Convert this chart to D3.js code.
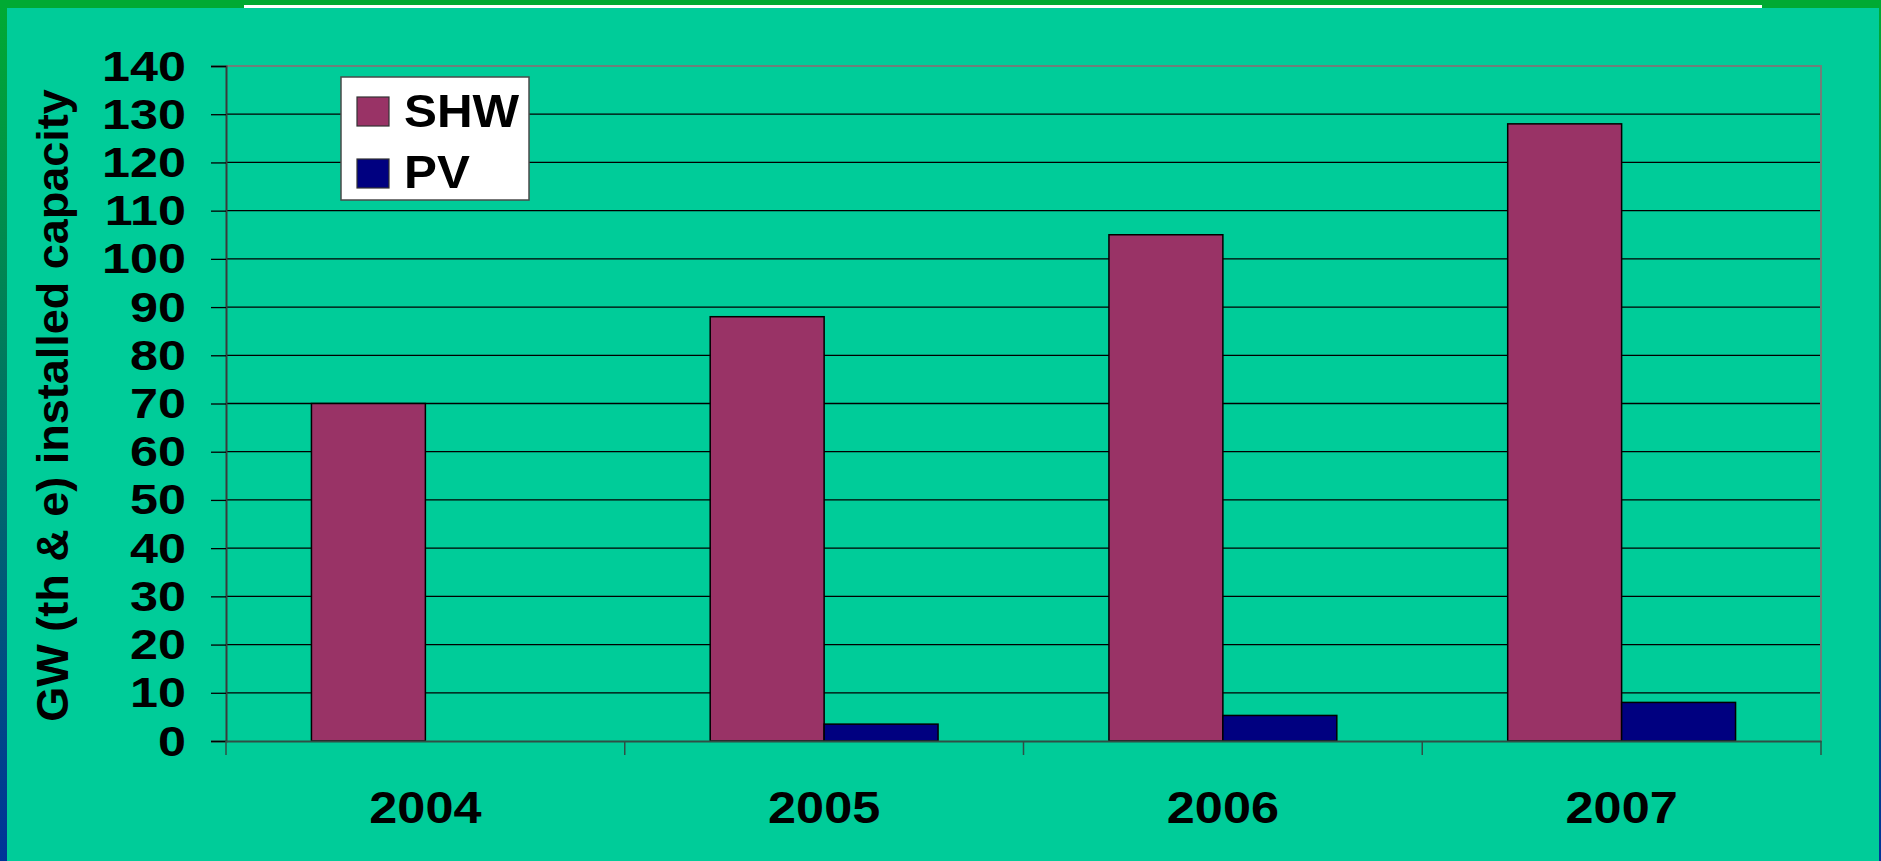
<!DOCTYPE html>
<html>
<head>
<meta charset="utf-8">
<script src="https://cdn.jsdelivr.net/npm/d3@7"></script>
<style>
  html, body { margin: 0; padding: 0; background: #00cc99; overflow: hidden; }
  svg { display: block; font-family: "Liberation Sans", Arial, sans-serif; font-weight: bold; }
</style>
</head>
<body>
<div class="chart"></div>
<script>
const years = ["2004", "2005", "2006", "2007"];
const shw = [70, 88, 105, 128];
const pv = [0, 3.5, 5.3, 8];
const seriesNames = ["SHW", "PV"];
const seriesColors = ["#993366", "#000080"];
const yTicks = [0, 10, 20, 30, 40, 50, 60, 70, 80, 90, 100, 110, 120, 130, 140];

const w = 1881;
const h = 861;
const plotL = 226, plotR = 1821, plotT = 66, plotB = 741;

let svg = d3.select(".chart").append("svg")
    .attr("width", w)
    .attr("height", h);

// frame
let defs = svg.append("defs");
let grad = defs.append("linearGradient").attr("id", "edge").attr("x1", 0).attr("y1", 0).attr("x2", 0).attr("y2", 1);
grad.append("stop").attr("offset", "0%").attr("stop-color", "#00aa33");
grad.append("stop").attr("offset", "100%").attr("stop-color", "#003399");

svg.append("rect").attr("x", 0).attr("y", 0).attr("width", w).attr("height", h).attr("fill", "#00aa33");
svg.append("rect").attr("x", 0).attr("y", 8).attr("width", 7).attr("height", h - 8).attr("fill", "url(#edge)");
svg.append("rect").attr("x", 1879).attr("y", 8).attr("width", 2).attr("height", h - 8).attr("fill", "url(#edge)");
svg.append("rect").attr("x", 7).attr("y", 8).attr("width", 1872).attr("height", h - 8).attr("fill", "#00cc99");
svg.append("rect").attr("x", 244).attr("y", 5).attr("width", 1518).attr("height", 3).attr("fill", "#ffffff");

let x0 = d3.scaleBand().domain(years).range([plotL, plotR]).paddingInner(0).paddingOuter(0);
let x1 = d3.scaleBand().domain(seriesNames).range([0, x0.bandwidth()]).paddingInner(0).paddingOuter(0.75);
let y = d3.scaleLinear().domain([0, 140]).range([plotB, plotT]);

// gridlines
svg.append("g").selectAll("line")
    .data(yTicks.filter(d => d > 0 && d < 140))
    .enter().append("line")
    .attr("x1", plotL).attr("x2", plotR)
    .attr("y1", d => y(d)).attr("y2", d => y(d))
    .attr("stroke", "#000").attr("stroke-width", 1.3);

// plot border top / right
svg.append("path")
    .attr("d", `M${plotL},${y(140)}H${plotR}V${plotB}`)
    .attr("fill", "none").attr("stroke", "#6e7f7a").attr("stroke-width", 2);

// bars
let rows = years.map((yr, i) => ({ year: yr, values: [shw[i], pv[i]] }));
let groups = svg.append("g").selectAll("g")
    .data(rows).enter().append("g")
    .attr("transform", d => "translate(" + x0(d.year) + ",0)");
groups.selectAll("rect")
    .data(d => d.values.map((v, j) => ({ name: seriesNames[j], value: v, color: seriesColors[j] })).filter(d => d.value > 0))
    .enter().append("rect")
    .attr("x", d => x1(d.name))
    .attr("y", d => y(d.value))
    .attr("width", x1.bandwidth())
    .attr("height", d => y(0) - y(d.value))
    .attr("fill", d => d.color)
    .attr("stroke", "#000").attr("stroke-width", 1.5);

// y axis
const yAxis = d3.axisLeft(y).tickValues(yTicks).tickSize(15).tickFormat(d3.format("d"));
let ya = svg.append("g").attr("transform", "translate(" + plotL + ",0)").call(yAxis);
ya.select(".domain").attr("stroke", "#3a3a3a").attr("stroke-width", 2);
ya.selectAll(".tick line").attr("stroke", "#000").attr("stroke-width", 1.3);
ya.selectAll(".tick text")
    .attr("font-size", 43).attr("fill", "#000")
    .attr("font-family", "Liberation Sans, Arial, sans-serif").attr("font-weight", "bold")
    .attr("dy", null).attr("x", null).attr("y", 14)
    .attr("text-anchor", "end")
    .attr("transform", "translate(-40,0) scale(1.17,1)");

// x axis
const xAxis = d3.axisBottom(x0).tickValues([]).tickSizeOuter(0);
let xa = svg.append("g").attr("transform", "translate(0," + plotB + ")").call(xAxis);
xa.select(".domain").attr("stroke", "#2f4f45").attr("stroke-width", 2);
xa.selectAll(".bound")
    .data(d3.range(years.length + 1))
    .enter().append("line")
    .attr("x1", i => plotL + i * x0.step()).attr("x2", i => plotL + i * x0.step())
    .attr("y1", 0).attr("y2", 14)
    .attr("stroke", "#2f4f45").attr("stroke-width", 1.5);
xa.selectAll(".yl")
    .data(years).enter().append("text")
    .attr("transform", d => "translate(" + (x0(d) + x0.bandwidth() / 2) + ",82) scale(1.12,1)")
    .attr("text-anchor", "middle")
    .attr("font-size", 45).attr("fill", "#000")
    .text(d => d);

// y title
svg.append("text")
    .attr("transform", "translate(68," + ((plotT + plotB) / 2 + 2) + ") rotate(-90)")
    .attr("text-anchor", "middle")
    .attr("font-size", 45).attr("fill", "#000")
    .text("GW (th & e) installed capacity");

// legend
let legend = svg.append("g");
legend.append("rect").attr("x", 341).attr("y", 77).attr("width", 188).attr("height", 123)
    .attr("fill", "#fff").attr("stroke", "#4a4a4a").attr("stroke-width", 1.5);
seriesNames.forEach((s, i) => {
    legend.append("rect").attr("x", 357).attr("y", 97 + i * 62).attr("width", 32).attr("height", 29)
        .attr("fill", seriesColors[i]).attr("stroke", "#333").attr("stroke-width", 1.2);
    legend.append("text").attr("transform", "translate(404," + (127 + i * 61) + ") scale(1.05,1)")
        .attr("font-size", 47).attr("fill", "#000").text(s);
});
</script>
</body>
</html>
